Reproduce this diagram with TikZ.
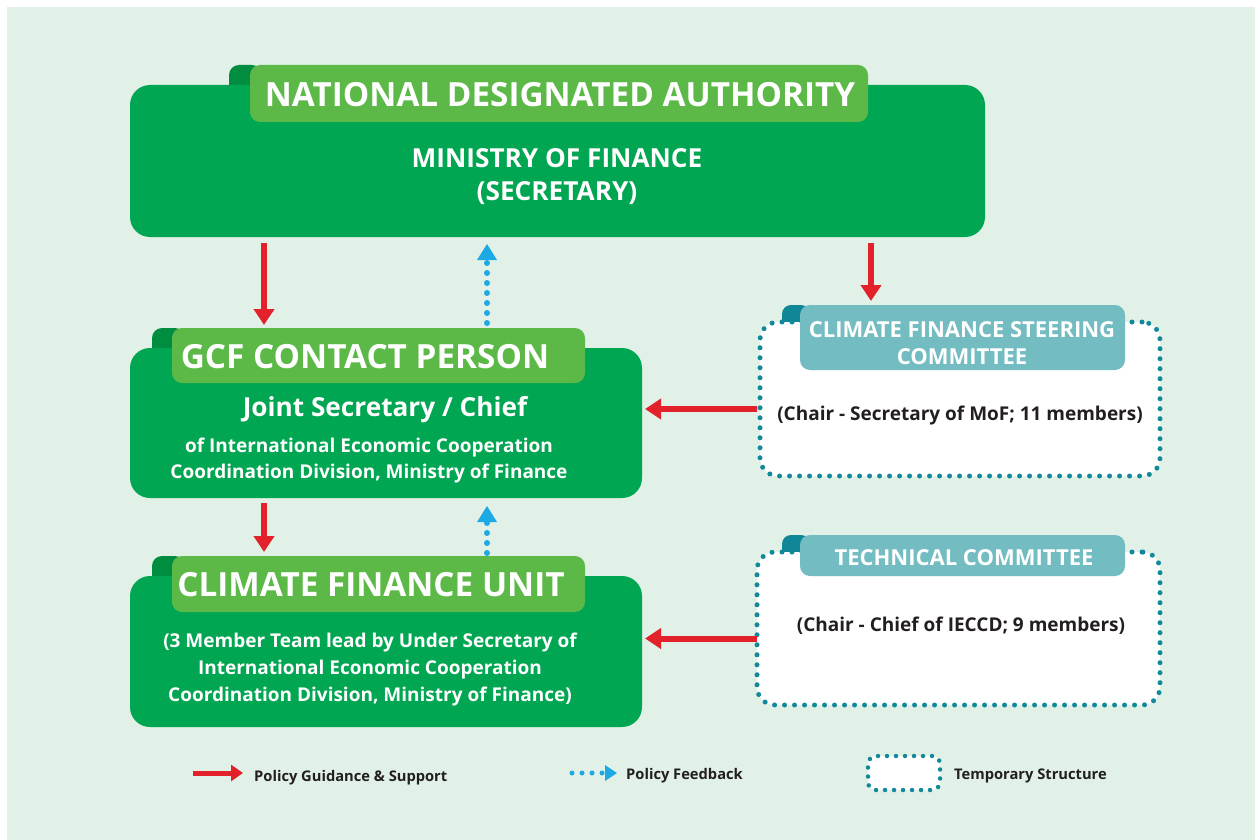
\documentclass[tikz,border=0pt]{standalone}
\usepackage{fontspec}
\setmainfont{Open Sans}
\usepackage{tikz}
\usetikzlibrary{calc}
\usetikzlibrary{arrows.meta,backgrounds,shapes}
\usetikzlibrary{positioning}
\usepackage{xcolor}
\definecolor{bgGreen}{HTML}{E1F1E7}
\definecolor{ndaGreen}{HTML}{00A651}
\definecolor{tabGreen}{HTML}{5DB947}
\definecolor{bumpGreen}{HTML}{008D3F}
\definecolor{tabTeal}{HTML}{73BCC1}
\definecolor{bumpTeal}{HTML}{0F8796}
\definecolor{dotTeal}{HTML}{12899A}
\definecolor{guideRed}{HTML}{E3212B}
\definecolor{feedBlue}{HTML}{1DA9E4}
\definecolor{inkBlack}{HTML}{231F20}
\newcommand{\fsz}[1]{\bfseries\fontsize{#1}{1.3\dimexpr#1pt\relax}\selectfont}

\begin{document}
\begin{tikzpicture}[x=1pt,y=-1pt,
    mainbox/.style={fill=ndaGreen,rounded corners=20pt,inner sep=0pt,outer sep=0pt,anchor=north west},
    gtab/.style={fill=tabGreen,rounded corners=10pt,inner sep=0pt,outer sep=0pt,anchor=north west},
    ttab/.style={fill=tabTeal,rounded corners=10pt,inner sep=0pt,outer sep=0pt,anchor=north west},
    tempbox/.style={fill=white,draw=dotTeal,line width=5pt,dash pattern=on 0pt off 10pt,line cap=round,rounded corners=18pt,inner sep=0pt,outer sep=0pt,anchor=north west},
    title/.style={text=white,font=\fsz{33.3},inner sep=0pt,yshift=-1.5pt},
    whitetxt/.style={text=white,align=center,inner sep=0pt,yshift=-2.5pt},
    blacktxt/.style={text=inkBlack,align=center,inner sep=0pt,yshift=-2.5pt},
    guide/.style={draw=guideRed,line width=6pt,-{Triangle[width=20pt,length=16pt]}},
    feedback/.style={draw=feedBlue,line width=6pt,dash pattern=on 0pt off 10pt,line cap=round,
      -{Triangle[width=20pt,length=16pt,fill=feedBlue,line width=0pt]}},
    legtxt/.style={text=inkBlack,font=\fsz{14.7},inner sep=0pt}]
  \useasboundingbox (0,0) rectangle (1255,840);
  \fill[bgGreen] (7,7) rectangle (1255,840);

  % national designated authority
  \fill[bumpGreen,rounded corners=10pt] (229,95) rectangle (262,65);
  \node[mainbox,minimum width=855pt,minimum height=152pt] (nda) at (130,85) {};
  \node[gtab,minimum width=618pt,minimum height=57pt] (ndaTab) at (250,65) {};
  \node[title] (ndaTitle) at (560,93) {NATIONAL DESIGNATED AUTHORITY};
  \node[whitetxt,font=\fsz{26.2}] (ndaBody) at (557,174) {MINISTRY OF FINANCE\\[-1pt](SECRETARY)};

  % gcf contact person
  \fill[bumpGreen,rounded corners=10pt] (152,358) rectangle (185,328);
  \node[mainbox,minimum width=512pt,minimum height=150pt] (gcf) at (130,348) {};
  \node[gtab,minimum width=413pt,minimum height=55pt] (gcfTab) at (172,328) {};
  \node[title] (gcfTitle) at (365,355) {GCF CONTACT PERSON};
  \node[whitetxt,font=\fsz{26.2}] (gcfRole) at (385,407) {Joint Secretary / Chief};
  \node[whitetxt,font=\fsz{19}] (gcfDiv) at (369,458) {of International Economic Cooperation\\[1.5pt]Coordination Division, Ministry of Finance};

  % climate finance unit
  \fill[bumpGreen,rounded corners=10pt] (152,586) rectangle (185,556);
  \node[mainbox,minimum width=512pt,minimum height=151pt] (cfu) at (130,576) {};
  \node[gtab,minimum width=413pt,minimum height=56pt] (cfuTab) at (172,556) {};
  \node[title] (cfuTitle) at (371,583) {CLIMATE FINANCE UNIT};
  \node[whitetxt,font=\fsz{19}] (cfuBody) at (370,667) {(3 Member Team lead by Under Secretary of\\[2pt]International Economic Cooperation\\[2pt]Coordination Division, Ministry of Finance)};

  % steering committee
  \fill[bumpTeal,rounded corners=9pt] (782,330) rectangle (810,305);
  \node[tempbox,minimum width=400pt,minimum height=154pt] (cfsc) at (760,322) {};
  \node[ttab,minimum width=325pt,minimum height=65pt] (cfscTab) at (800,305) {};
  \node[whitetxt,font=\fsz{22}] (cfscTitle) at (962,341) {CLIMATE FINANCE STEERING\\[-1.5pt]COMMITTEE};
  \node[blacktxt,font=\fsz{19}] (cfscBody) at (960,413) {(Chair - Secretary of MoF; 11 members)};

  % technical committee
  \fill[bumpTeal,rounded corners=9pt] (782,560) rectangle (810,535);
  \node[tempbox,minimum width=403pt,minimum height=153pt] (tc) at (757,552) {};
  \node[ttab,minimum width=325pt,minimum height=41pt] (tcTab) at (800,535) {};
  \node[whitetxt,font=\fsz{22}] (tcTitle) at (964,555) {TECHNICAL COMMITTEE};
  \node[blacktxt,font=\fsz{19}] (tcBody) at (961,623) {(Chair - Chief of IECCD; 9 members)};

  % connectors
  \draw[guide] ($(nda.south west)+(134,6)$) -- ($(gcfTab.north west)+(92,-3)$);
  \draw[feedback] ($(gcfTab.north west)+(315,-5)$) -- ($(nda.south west)+(357,7)$);
  \draw[guide] ($(nda.south west)+(741,6)$) -- ($(cfscTab.north west)+(71,-4)$);
  \draw[guide] ($(cfsc.west)+(-3,10)$) -- ($(gcf.east)+(3,-14)$);
  \draw[guide] ($(gcf.south west)+(134,5)$) -- ($(cfuTab.north west)+(92,-4)$);
  \draw[feedback] ($(cfuTab.north west)+(315,-3)$) -- ($(gcf.south west)+(357,8)$);
  \draw[guide] ($(tc.west)+(0,10)$) -- ($(cfu.east)+(3,-13)$);

  % legend
  \coordinate (lgRedA) at (193,773);
  \coordinate (lgRedB) at (243,773);
  \draw[guide,line width=5pt,-{Triangle[width=16pt,length=12pt]}] (lgRedA) -- (lgRedB);
  \node[legtxt,anchor=west,right=11pt of lgRedB,yshift=-4.5pt] (lgRedTxt) {Policy Guidance \& Support};
  \coordinate (lgBlueA) at (572,773);
  \coordinate (lgBlueB) at (617,773);
  \draw[feedback,line width=5pt,-{Triangle[width=16pt,length=12pt,fill=feedBlue,line width=0pt]}] (lgBlueA) -- (lgBlueB);
  \node[legtxt,anchor=west,right=9pt of lgBlueB,yshift=-2.5pt] (lgBlueTxt) {Policy Feedback};
  \node[tempbox,line width=4.5pt,dash pattern=on 0pt off 9pt,rounded corners=8pt,minimum width=72pt,minimum height=34pt] (lgTemp) at (868,756) {};
  \node[legtxt,anchor=west,right=14pt of lgTemp,yshift=-2.5pt] (lgTempTxt) {Temporary Structure};
\end{tikzpicture}
\end{document}
